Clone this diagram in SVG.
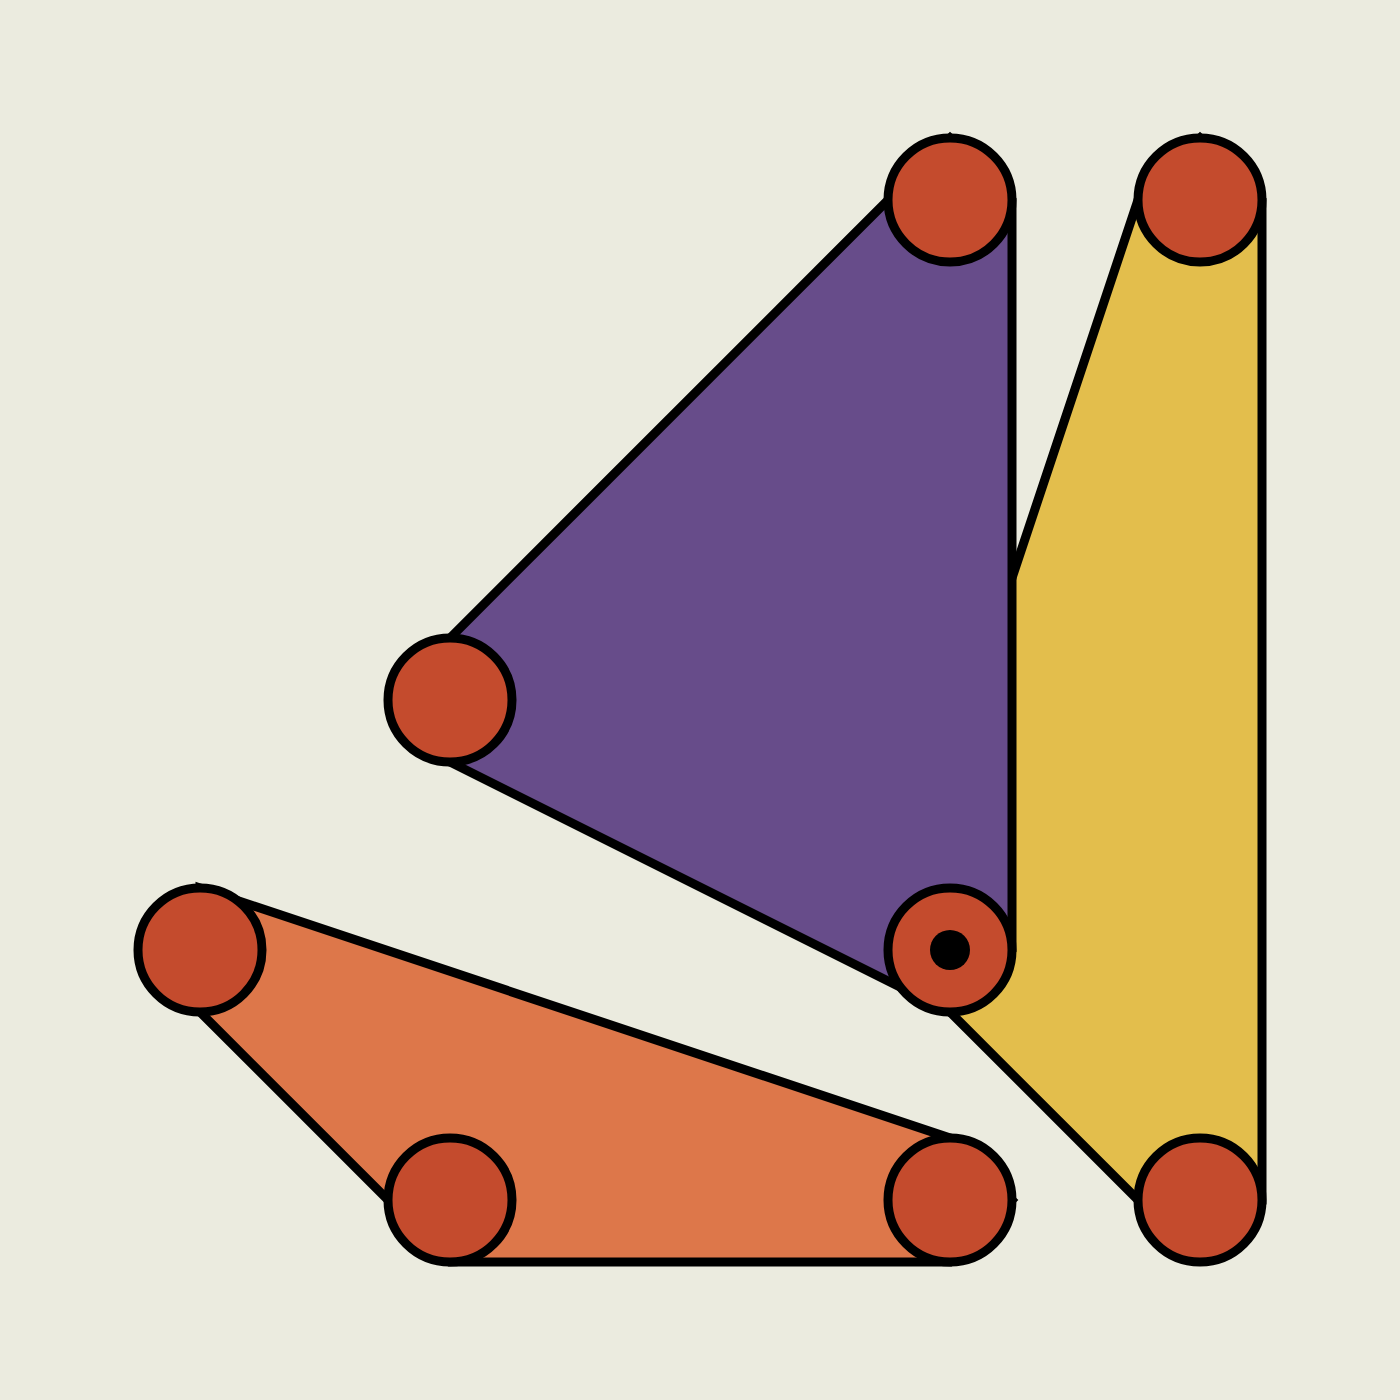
<svg xmlns="http://www.w3.org/2000/svg" width="1400" height="1400" viewBox="0 0 1400 1400">
<style>
.hull{stroke:#000;stroke-width:9;stroke-linejoin:miter}
.node{fill:#C44B2D;stroke:#000;stroke-width:9}
</style>
<rect width="1400" height="1400" fill="#EBEBDF"/>
<g id="connectors">
<polygon id="orange" class="hull" fill="#DD774A" points="200,888 950,1138 1012,1200 950,1262 450,1262 200,1012"/>
<polygon id="yellow" class="hull" fill="#E3BE4C" points="1200,138 1262,200 1262,1200 1138,1200 950,1012 888,950 1138,200"/>
<polygon id="purple" class="hull" fill="#674C8A" points="950,138 1012,200 1012,950 950,1012 450,762 450,638"/>
</g>
<g id="n1"><circle class="node" cx="950" cy="200" r="62"/></g>
<g id="n2"><circle class="node" cx="1200" cy="200" r="62"/></g>
<g id="n3"><circle class="node" cx="450" cy="700" r="62"/></g>
<g id="n4"><circle class="node" cx="950" cy="950" r="62"/><circle cx="950" cy="950" r="20" fill="#000"/></g>
<g id="n5"><circle class="node" cx="200" cy="950" r="62"/></g>
<g id="n6"><circle class="node" cx="450" cy="1200" r="62"/></g>
<g id="n7"><circle class="node" cx="950" cy="1200" r="62"/></g>
<g id="n8"><circle class="node" cx="1200" cy="1200" r="62"/></g>
</svg>
